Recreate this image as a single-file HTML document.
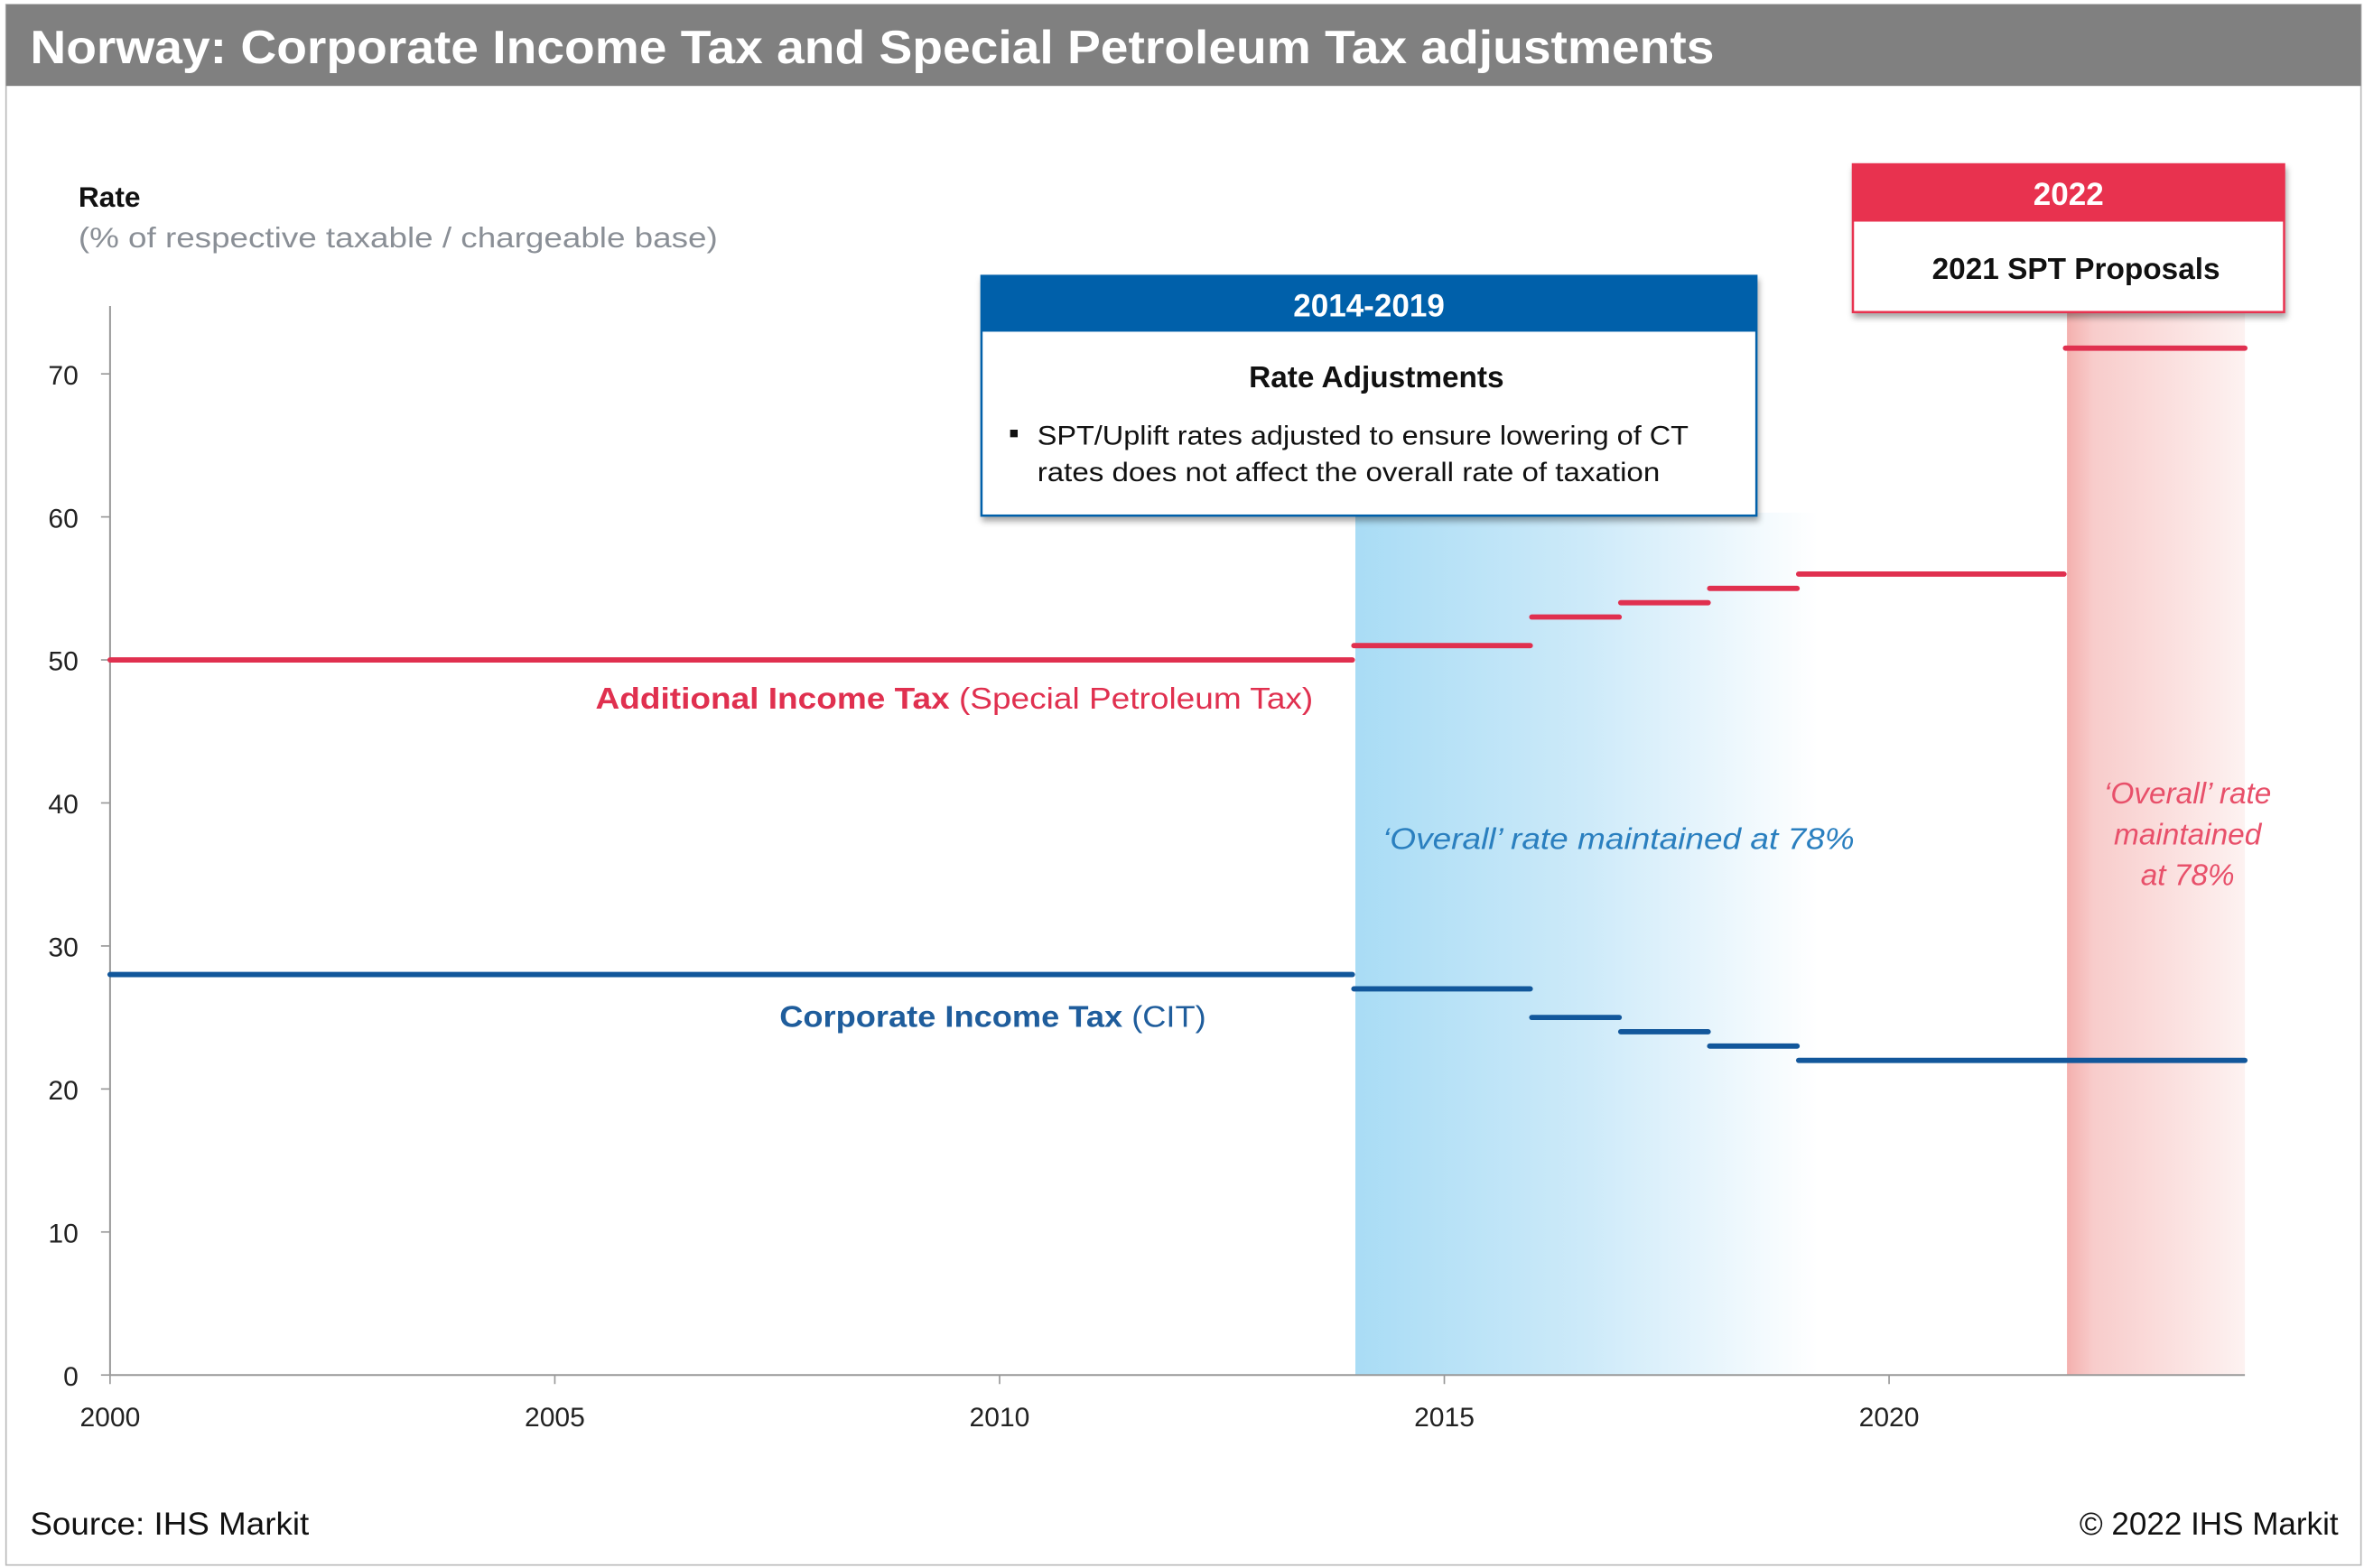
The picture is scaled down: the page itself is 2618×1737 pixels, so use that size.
<!DOCTYPE html>
<html><head><meta charset="utf-8"><style>
html,body{margin:0;padding:0;background:#fff;}
svg{display:block;font-family:"Liberation Sans",sans-serif;}
</style></head><body>
<svg id="chart" width="2618" height="1737" viewBox="0 0 1568 1040" preserveAspectRatio="none">
<defs>
<linearGradient id="gb" x1="0" x2="1" y1="0" y2="0"><stop offset="0" stop-color="#a9dcf5"/><stop offset="0.5" stop-color="#cdeaf9"/><stop offset="1" stop-color="#ffffff"/></linearGradient>
<linearGradient id="gr" x1="0" x2="1" y1="0" y2="0"><stop offset="0" stop-color="#f4b0ae"/><stop offset="0.15" stop-color="#f8cccb"/><stop offset="1" stop-color="#fdf2f1"/></linearGradient>
<filter id="sh" x="-5%" y="-5%" width="110%" height="120%"><feDropShadow dx="1" dy="3" stdDeviation="2" flood-color="#000" flood-opacity="0.35"/></filter>
</defs>
<rect x="4" y="3" width="1562" height="1035" fill="#fff" stroke="#bbb" stroke-width="1"/>
<rect x="4" y="3" width="1562" height="54" fill="#808080"/>
<text x="20" y="42" fill="#fff" font-size="31" font-weight="bold" textLength="1117" lengthAdjust="spacingAndGlyphs">Norway: Corporate Income Tax and Special Petroleum Tax adjustments</text>
<text x="52" y="137" font-size="19" font-weight="bold" fill="#111">Rate</text>
<text x="52" y="164" font-size="19" fill="#8a8f96" textLength="424" lengthAdjust="spacingAndGlyphs">(% of respective taxable / chargeable base)</text>
<g id="shades"></g>
<g id="axes"></g>
<g id="series"></g>
<text x="395" y="470" font-size="20" fill="#e0304f" textLength="476" lengthAdjust="spacingAndGlyphs"><tspan font-weight="bold">Additional Income Tax</tspan> (Special Petroleum Tax)</text>
<text x="517" y="681" font-size="20" fill="#1f5d9c" textLength="283" lengthAdjust="spacingAndGlyphs"><tspan font-weight="bold">Corporate Income Tax</tspan> (CIT)</text>
<text x="917" y="563" font-size="20" font-style="italic" fill="#2a7fbf" textLength="313" lengthAdjust="spacingAndGlyphs">‘Overall’ rate maintained at 78%</text>
<g font-size="20" font-style="italic" fill="#e8506a" text-anchor="middle">
<text x="1451" y="533">‘Overall’ rate</text><text x="1451" y="560">maintained</text><text x="1451" y="587">at 78%</text></g>
<g filter="url(#sh)">
<rect x="651" y="183" width="514" height="159" fill="#fff" stroke="#0060aa" stroke-width="1.5"/>
<rect x="651" y="183" width="514" height="37" fill="#0060aa"/></g>
<text x="908" y="210" font-size="21" font-weight="bold" fill="#fff" text-anchor="middle">2014-2019</text>
<text x="913" y="257" font-size="20" font-weight="bold" fill="#111" text-anchor="middle">Rate Adjustments</text>
<rect x="670" y="285" width="5" height="5" fill="#111"/>
<text x="688" y="295" font-size="18" fill="#111" textLength="432" lengthAdjust="spacingAndGlyphs">SPT/Uplift rates adjusted to ensure lowering of CT</text>
<text x="688" y="319" font-size="18" fill="#111" textLength="413" lengthAdjust="spacingAndGlyphs">rates does not affect the overall rate of taxation</text>
<g filter="url(#sh)">
<rect x="1229" y="109" width="286" height="98" fill="#fff" stroke="#e8304f" stroke-width="1.5"/>
<rect x="1229" y="109" width="286" height="38" fill="#e8304f"/></g>
<text x="1372" y="136" font-size="21" font-weight="bold" fill="#fff" text-anchor="middle">2022</text>
<text x="1377" y="185" font-size="20" font-weight="bold" fill="#111" text-anchor="middle">2021 SPT Proposals</text>
<text x="20" y="1018" font-size="21" fill="#111" textLength="185" lengthAdjust="spacingAndGlyphs">Source: IHS Markit</text>
<text x="1551" y="1018" font-size="21" fill="#111" text-anchor="end">© 2022 IHS Markit</text>
</svg>
<script>
const yTicks=[0,10,20,30,40,50,60,70];
const xTicks=[2000,2005,2010,2015,2020];
const aitStart=[2000,2014,2016,2017,2018,2019,2022];
const aitEnd=[2014,2016,2017,2018,2019,2022,2024];
const aitRate=[50,51,53,54,55,56,71.8];
const citStart=[2000,2014,2016,2017,2018,2019];
const citEnd=[2014,2016,2017,2018,2019,2024];
const citRate=[28,27,25,24,23,22];
const X=y=>73+(y-2000)*59;
const Y=v=>912-v*9.486;
const NS="http://www.w3.org/2000/svg";
function mk(tag,attrs,parent){const e=document.createElementNS(NS,tag);for(const k in attrs)e.setAttribute(k,attrs[k]);parent.appendChild(e);return e;}
const sh=document.getElementById('shades');
let b=mk('rect',{x:X(2014),y:340,width:X(2019.2)-X(2014),height:Y(0)-340,fill:'url(#gb)'},sh);


let r=mk('rect',{x:X(2022),y:205,width:X(2024)-X(2022),height:Y(0)-205,fill:'url(#gr)'},sh);


const ax=document.getElementById('axes');
let l=mk('line',{x1:X(2000),y1:203,x2:X(2000),y2:Y(0),stroke:'#999','stroke-width':1.2},ax);


l=mk('line',{x1:X(2000),y1:Y(0),x2:X(2024),y2:Y(0),stroke:'#999','stroke-width':1.2},ax);


yTicks.forEach(v=>{
 mk('line',{x1:X(2000)-6,y1:Y(v),x2:X(2000),y2:Y(v),stroke:'#999'},ax);
 const t=mk('text',{x:52,y:Y(v)+7,'font-size':18,'text-anchor':'end',fill:'#222'},ax);t.textContent=v;
 
 
});
xTicks.forEach(v=>{
 mk('line',{x1:X(v),y1:Y(0),x2:X(v),y2:Y(0)+6,stroke:'#999'},ax);
 const t=mk('text',{x:X(v),y:Y(0)+34,'font-size':18,'text-anchor':'middle',fill:'#222'},ax);t.textContent=v;
 
 
});
const se=document.getElementById('series');
aitRate.forEach((v,i)=>{
 const s=mk('line',{x1:X(aitStart[i])-(i?1:0),y1:Y(v),x2:X(aitEnd[i])-(i<aitRate.length-1?2:0),y2:Y(v),stroke:'#e0304f','stroke-width':3.5,'stroke-linecap':'round'},se);
 
 
});
citRate.forEach((v,i)=>{
 const s=mk('line',{x1:X(citStart[i])-(i?1:0),y1:Y(v),x2:X(citEnd[i])-(i<citRate.length-1?2:0),y2:Y(v),stroke:'#12579b','stroke-width':3.5,'stroke-linecap':'round'},se);
 
 
});
</script>
</body></html>
